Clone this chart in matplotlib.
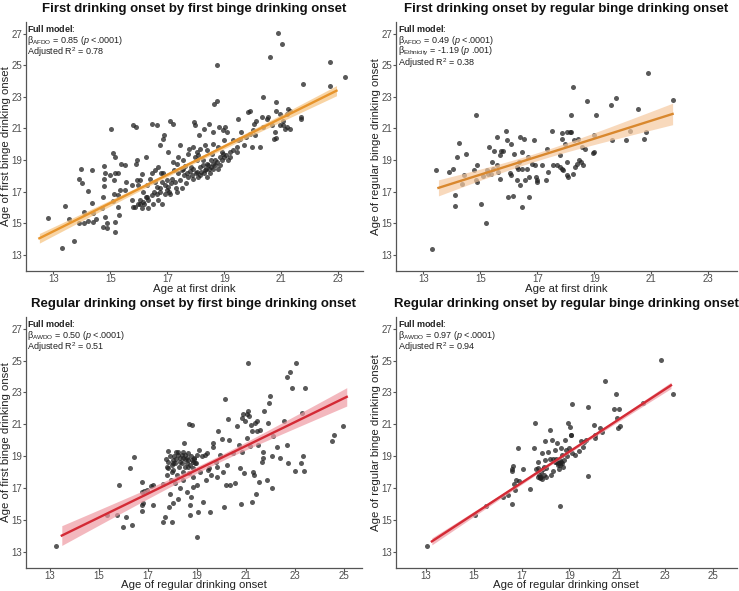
import numpy as np
import matplotlib
matplotlib.use("Agg")
import matplotlib.pyplot as plt

plt.rcParams['font.family'] = ['Liberation Sans', 'DejaVu Sans']
plt.rcParams['mathtext.fontset'] = 'custom'
plt.rcParams['mathtext.rm'] = 'Liberation Sans'
plt.rcParams['mathtext.it'] = 'Liberation Sans:italic'
plt.rcParams['mathtext.bf'] = 'Liberation Sans:bold'

# ---------------- data ----------------
p1_points = [
    (12.8, 15.35), (13.3, 13.42), (13.42, 16.1), (13.55, 15.25), (13.72, 13.9), (13.9, 17.83),
    (13.98, 18.45), (14.0, 17.57), (13.9, 15.0), (14.08, 15.7), (14.08, 15.04), (14.2, 15.14),
    (14.23, 17.03), (14.35, 18.4), (14.35, 16.3), (14.39, 15.62), (14.49, 15.25), (14.38, 15.06),
    (14.7, 15.94), (14.75, 16.67), (14.78, 17.37), (14.79, 17.8), (14.82, 18.15), (14.78, 18.6),
    (14.81, 15.41), (14.73, 14.78), (14.87, 14.68), (15.15, 14.47), (14.9, 15.04), (15.02, 20.95),
    (15.1, 19.44), (15.16, 19.19), (14.99, 18.04), (15.16, 18.15), (15.26, 18.2), (15.13, 17.72),
    (15.13, 16.88), (15.28, 16.78), (15.34, 17.09), (15.51, 17.09), (15.1, 16.41), (15.28, 16.0),
    (15.32, 15.52), (15.16, 15.1), (15.37, 18.77), (15.51, 18.67), (15.55, 17.62), (15.75, 17.45),
    (15.81, 21.19), (15.9, 21.08), (15.92, 19.03), (15.9, 18.77), (15.75, 16.5), (15.81, 16.04),
    (15.87, 16.04), (15.92, 17.72), (15.98, 17.4), (16.04, 16.46), (16.04, 16.2), (16.1, 18.14),
    (16.04, 17.72), (16.13, 16.35), (16.19, 16.2), (16.24, 19.19), (16.28, 17.4), (16.28, 16.67),
    (16.39, 17.83), (16.46, 21.29), (16.63, 21.19), (16.33, 15.94), (16.51, 16.25), (16.54, 16.99),
    (16.57, 17.62), (16.63, 16.88), (16.68, 16.5), (16.74, 17.2), (16.77, 18.15), (16.74, 19.93),
    (16.8, 16.25), (16.86, 18.15), (16.86, 20.35), (16.88, 20.56), (16.8, 17.62), (16.92, 17.4),
    (16.92, 16.88), (16.98, 17.09), (17.04, 19.5), (17.06, 16.99), (17.09, 16.88), (17.13, 17.55),
    (17.09, 21.5), (17.19, 21.25), (17.21, 18.88), (17.15, 17.83), (17.23, 18.35), (17.27, 17.62),
    (17.3, 17.2), (17.33, 16.99), (17.38, 18.15), (17.44, 19.93), (17.44, 17.72), (17.5, 17.2),
    (17.54, 18.46), (17.6, 18.04), (17.64, 17.55), (17.71, 19.36), (17.77, 19.72), (17.8, 18.3),
    (17.85, 18.04), (17.89, 19.83), (17.91, 17.83), (17.94, 21.4), (17.97, 21.19), (17.97, 19.19),
    (18.05, 18.98), (18.05, 18.25), (18.09, 19.3), (18.12, 20.56), (18.15, 18.04), (18.2, 18.25),
    (18.26, 18.98), (18.32, 19.93), (18.3, 20.98), (18.36, 18.46), (18.38, 17.93), (18.44, 18.67),
    (18.46, 21.29), (18.5, 18.15), (18.52, 18.56), (18.56, 19.4), (18.59, 20.77), (18.61, 18.77),
    (18.65, 22.55), (18.73, 22.76), (18.73, 25.0), (18.67, 18.98), (18.79, 19.83), (18.82, 21.08),
    (18.85, 19.19), (18.91, 19.5), (18.94, 20.87), (18.96, 19.4), (18.99, 20.24), (19.02, 21.12),
    (19.08, 20.77), (19.2, 19.19), (19.32, 19.61), (19.43, 19.5), (19.49, 21.6), (19.49, 20.24),
    (19.55, 20.35), (19.69, 19.93), (19.78, 20.45), (19.84, 22.02), (19.92, 22.13), (19.96, 19.83),
    (20.02, 20.87), (20.05, 21.29), (20.08, 20.56), (20.25, 19.83), (20.37, 22.97), (20.31, 21.71),
    (20.49, 21.6), (20.6, 25.53), (20.66, 21.19), (20.74, 20.35), (20.77, 20.77), (20.81, 22.65),
    (20.83, 22.13), (20.89, 27.06), (20.95, 21.19), (20.95, 21.92), (21.01, 26.33), (21.07, 21.19),
    (21.12, 20.98), (21.19, 21.92), (21.25, 22.23), (21.3, 20.98), (21.71, 21.71), (21.71, 21.6),
    (21.75, 23.81), (22.71, 25.22), (22.71, 23.66), (23.23, 24.27), (20.81, 20.41),
    (17.5, 18.4), (17.62, 18.6), (17.68, 18.15), (17.74, 17.93), (17.82, 18.56), (17.91, 18.46),
    (18.0, 18.15), (18.09, 17.93), (18.15, 18.56), (18.24, 18.67), (18.29, 18.15), (18.32, 18.35),
    (18.38, 18.77), (18.47, 18.46), (18.53, 18.98), (18.61, 18.46), (18.67, 18.67), (18.73, 18.88),
    (18.79, 18.46), (18.85, 18.67), (18.91, 19.0), (18.99, 19.19), (19.06, 19.3), (19.14, 18.98),
    (19.2, 19.5), (16.98, 17.72), (17.04, 17.3), (16.74, 16.99), (16.63, 17.3), (16.46, 16.78),
    (16.33, 16.46), (16.25, 16.67), (16.1, 15.94), (15.98, 16.25), (16.16, 16.99), (16.46, 18.15),
    (16.57, 18.35), (16.68, 18.56), (17.33, 18.77), (17.38, 19.19), (17.56, 18.98), (18.03, 19.5),
    (18.15, 19.72), (18.38, 19.61), (18.61, 20.03), (19.32, 20.24), (19.43, 19.83), (19.6, 20.77),
    (19.9, 20.66), (20.13, 21.5), (20.37, 21.08), (20.54, 21.71), (21.07, 21.5), (21.19, 21.08),
    (21.3, 22.13),
]

p2_points = [
    (13.32, 13.4), (13.43, 18.35), (13.91, 18.25), (14.03, 18.46), (14.11, 16.78), (14.11, 16.08),
    (14.19, 19.19), (14.26, 20.07), (14.35, 17.51), (14.44, 18.04), (14.49, 19.36), (14.79, 18.35),
    (14.85, 21.82), (14.87, 18.67), (14.85, 17.72), (14.89, 17.62), (15.02, 16.21), (15.1, 17.99),
    (15.2, 15.03), (15.22, 18.35), (15.28, 18.14), (15.3, 19.82), (15.37, 18.14), (15.4, 18.88),
    (15.43, 18.46), (15.48, 19.57), (15.57, 20.45), (15.6, 18.67), (15.62, 18.25), (15.68, 19.3),
    (15.68, 17.78), (15.74, 19.57), (15.8, 19.57), (15.9, 20.81), (15.92, 20.24), (15.98, 16.68),
    (16.04, 18.18), (16.06, 20.03), (16.06, 18.04), (16.16, 16.74), (16.18, 19.36), (16.28, 18.56),
    (16.28, 17.72), (16.31, 18.46), (16.36, 18.88), (16.39, 20.45), (16.41, 17.41), (16.45, 16.04),
    (16.45, 18.46), (16.48, 19.51), (16.53, 20.3), (16.57, 17.72), (16.63, 18.46), (16.68, 19.19),
    (16.72, 17.93), (16.72, 16.68), (16.8, 18.77), (16.88, 20.28), (16.92, 18.67), (16.94, 17.93),
    (16.98, 17.72), (17.0, 17.62), (17.15, 18.67), (17.3, 17.72), (17.33, 19.72), (17.36, 18.25),
    (17.5, 20.83), (17.54, 18.67), (17.68, 18.67), (17.78, 19.3), (17.8, 18.56), (17.85, 20.35),
    (17.85, 18.46), (17.85, 20.7), (17.91, 18.35), (17.97, 19.99), (18.03, 18.88), (18.05, 18.04),
    (18.06, 20.77), (18.09, 17.93), (18.15, 20.77), (18.2, 20.77), (18.2, 21.82), (18.26, 23.64),
    (18.29, 20.24), (18.26, 18.14), (18.32, 18.56), (18.38, 18.77), (18.44, 20.35), (18.47, 19.02),
    (18.52, 18.88), (18.56, 19.82), (18.61, 18.71), (18.67, 19.72), (18.73, 22.76), (18.97, 19.44),
    (18.99, 19.51), (18.99, 20.56), (19.06, 21.88), (19.6, 22.45), (19.64, 20.24), (19.76, 22.91),
    (20.13, 20.28), (20.27, 20.81), (20.54, 22.24), (20.74, 20.3), (20.83, 20.77), (20.89, 24.48),
    (21.77, 22.8),
]

p3_points = [
    (13.24, 13.34), (15.31, 15.28), (15.72, 15.32), (15.81, 17.22), (16.1, 15.18), (15.96, 14.58),
    (16.33, 14.65), (16.26, 18.28), (16.44, 18.93), (16.74, 16.76), (16.74, 15.91), (16.74, 15.53),
    (16.76, 17.39), (16.83, 16.8), (16.8, 16.08), (16.94, 16.86), (17.1, 17.14), (17.21, 15.96),
    (17.19, 17.2), (17.62, 14.86), (17.62, 17.24), (17.7, 15.18), (17.72, 18.81), (17.76, 17.81),
    (17.83, 19.34), (17.83, 18.24), (17.87, 15.81), (17.89, 16.65), (17.92, 17.5), (17.96, 14.86),
    (17.96, 18.03), (18.0, 18.6), (18.03, 16.08), (18.06, 18.98), (18.1, 17.29), (18.14, 19.29),
    (18.16, 17.81), (18.21, 16.34), (18.26, 18.34), (18.3, 16.97), (18.3, 18.66), (18.37, 19.08),
    (18.41, 18.03), (18.44, 17.5), (18.46, 19.82), (18.5, 18.83), (18.57, 18.55), (18.57, 16.76),
    (18.61, 18.34), (18.64, 19.19), (18.67, 17.92), (18.68, 21.02), (18.71, 15.91), (18.71, 15.28),
    (18.74, 16.44), (18.78, 20.98), (18.78, 18.77), (18.82, 17.08), (18.84, 18.24), (18.84, 17.71),
    (18.87, 18.91), (18.91, 18.55), (18.95, 18.55), (18.98, 13.91), (19.01, 17.18), (19.02, 15.49),
    (19.08, 19.4), (19.12, 18.03), (19.18, 18.98), (19.22, 16.13), (19.32, 19.08), (19.36, 17.5),
    (19.39, 19.19), (19.43, 18.13), (19.49, 18.24), (19.52, 15.49), (19.55, 17.81), (19.63, 19.55),
    (19.66, 19.82), (19.77, 18.66), (19.8, 18.34), (19.82, 17.71), (19.86, 20.56), (19.93, 19.08),
    (20.0, 20.07), (20.04, 18.03), (20.09, 15.81), (20.14, 22.57), (20.16, 17.22), (20.2, 18.45),
    (20.27, 21.3), (20.31, 20.03), (20.34, 17.22), (20.47, 19.19), (20.54, 17.29), (20.61, 20.88),
    (20.72, 19.72), (20.75, 18.24), (20.77, 16.02), (20.81, 19.29), (20.84, 21.4), (20.88, 21.66),
    (20.9, 17.92), (20.95, 21.19), (21.02, 21.62), (21.04, 20.14), (21.09, 24.83), (21.09, 21.83),
    (21.13, 21.51), (21.15, 19.61), (21.18, 20.98), (21.22, 20.56), (21.25, 16.13), (21.29, 18.03),
    (21.36, 21.09), (21.32, 17.81), (21.4, 16.65), (21.43, 21.19), (21.45, 20.56), (21.5, 19.72),
    (21.54, 17.39), (21.56, 20.62), (21.63, 18.66), (21.67, 18.87), (21.7, 19.29), (21.72, 21.83),
    (21.83, 17.5), (21.87, 21.09), (21.94, 22.36), (21.97, 22.78), (22.04, 18.98), (22.04, 16.97),
    (22.11, 20.24), (22.24, 19.55), (22.38, 18.87), (22.55, 21.19), (22.65, 23.94), (22.68, 19.72),
    (22.72, 18.55), (22.79, 24.26), (22.86, 23.3), (23.0, 18.07), (23.02, 24.83), (23.23, 18.55),
    (23.26, 21.72), (23.33, 18.98), (23.35, 18.07), (23.4, 23.26), (24.48, 19.93), (24.58, 20.31),
    (24.96, 20.92),
    (17.89, 18.98), (18.03, 18.77), (18.14, 18.83), (18.23, 19.08), (18.3, 18.91), (18.41, 18.87),
    (18.5, 19.08), (18.57, 18.91), (18.64, 18.77), (18.74, 18.98), (18.82, 18.66), (18.88, 18.81),
    (18.1, 18.55), (18.37, 18.55), (18.5, 18.34), (18.71, 18.45), (17.96, 18.45), (17.76, 18.34),
    (18.23, 19.29), (18.44, 19.29), (18.98, 19.08), (18.03, 18.13), (17.83, 18.66),
]

p4_points = [
    (13.03, 13.34), (15.05, 15.32), (15.53, 15.86), (16.23, 16.43), (16.44, 16.54), (16.61, 16.01),
    (16.61, 18.22), (16.62, 18.05), (16.65, 18.39), (16.68, 17.27), (16.72, 16.85), (16.75, 17.48),
    (16.86, 19.48), (16.9, 17.42), (17.07, 18.22), (17.35, 16.96), (17.51, 19.53), (17.55, 21.06),
    (17.62, 18.22), (17.67, 18.64), (17.69, 18.26), (17.74, 17.8), (17.76, 17.69), (17.81, 18.01),
    (17.83, 17.69), (17.87, 19.17), (17.9, 18.22), (17.93, 17.8), (17.97, 19.97), (17.97, 18.75),
    (18.01, 18.26), (18.04, 17.69), (18.11, 19.27), (18.18, 18.79), (18.18, 20.64), (18.25, 17.8),
    (18.29, 20.01), (18.32, 18.05), (18.39, 19.38), (18.43, 18.85), (18.49, 19.8), (18.53, 18.43),
    (18.56, 18.22), (18.6, 15.86), (18.63, 18.54), (18.67, 18.64), (18.67, 19.48), (18.71, 19.06),
    (18.74, 18.33), (18.81, 20.01), (18.85, 19.38), (18.91, 19.0), (18.95, 21.06), (18.99, 19.48),
    (19.02, 20.85), (19.06, 20.33), (19.09, 20.33), (19.12, 22.26), (19.13, 19.17), (19.23, 19.06),
    (19.41, 19.32), (19.5, 19.97), (19.57, 19.59), (19.62, 19.91), (19.71, 20.01), (19.78, 22.09),
    (19.78, 17.74), (20.02, 20.96), (20.06, 20.16), (20.08, 20.33), (20.28, 20.75), (20.35, 20.54),
    (20.48, 23.74), (20.87, 21.97), (20.97, 22.89), (21.0, 21.42), (21.04, 20.75), (21.08, 21.95),
    (21.13, 20.92), (22.08, 22.33), (22.85, 25.06), (23.33, 22.92),
    (17.69, 17.69), (17.79, 17.63), (17.87, 17.59), (17.93, 18.33), (18.46, 18.64), (18.53, 18.54),
    (18.6, 18.43), (18.63, 18.75), (18.71, 18.54), (18.78, 18.75), (18.32, 18.85), (18.39, 18.64),
]

# fitted regression lines as drawn in the figure (intercept, slope, x-range)
fit_intercepts = [2.854, 9.54, 3.92, 0.68]
fit_slopes = [0.895, 0.569, 0.749, 0.979]
fit_x_from = [12.51, 13.53, 13.48, 13.25]
fit_x_to = [22.94, 21.75, 25.10, 23.25]
# 95% CI half-widths read at the centre and at the ends of each line
ci_mid = [0.12, 0.25, 0.20, 0.08]
ci_end = [0.32, 0.68, 0.62, 0.22]

titles = [
    "First drinking onset by first binge drinking onset",
    "First drinking onset by regular binge drinking onset",
    "Regular drinking onset by first binge drinking onset",
    "Regular drinking onset by regular binge drinking onset",
]
xlabels = ["Age at first drink", "Age at first drink",
           "Age of regular drinking onset", "Age of regular drinking onset"]
ylabels = ["Age of first binge drinking onset", "Age of regular binge drinking onset",
           "Age of first binge drinking onset", "Age of regular binge drinking onset"]
annotations = [
    [r"$\mathbf{Full\ model}$:", r"β$_{\mathrm{AFDO}}$ = 0.85 ($\mathit{p}$ <.0001)", r"Adjusted R$^{2}$ = 0.78"],
    [r"$\mathbf{Full\ model}$:", r"β$_{\mathrm{AFDO}}$ = 0.49 ($\mathit{p}$ <.0001)",
     r"β$_{\mathrm{Ethnicity}}$ = -1.19 ($\mathit{p}$ .001)", r"Adjusted R$^{2}$ = 0.38"],
    [r"$\mathbf{Full\ model}$:", r"β$_{\mathrm{AWDO}}$ = 0.50 ($\mathit{p}$ <.0001)", r"Adjusted R$^{2}$ = 0.51"],
    [r"$\mathbf{Full\ model}$:", r"β$_{\mathrm{AWDO}}$ = 0.97 ($\mathit{p}$ <.0001)", r"Adjusted R$^{2}$ = 0.94"],
]
x_ticks_top = [13, 15, 17, 19, 21, 23]
x_ticks_bottom = [13, 15, 17, 19, 21, 23, 25]
y_ticks = [13, 15, 17, 19, 21, 23, 25, 27]

# ---------------- layout ----------------
W, H = 739, 591
fig = plt.figure(figsize=(W / 100, H / 100), dpi=100)


def fx(px):
    return px / W


def fy(py):
    return 1 - py / H


# (left px, top px, right px, bottom px)
boxes = [(26, 21.7, 362.7, 270.7), (396, 21.7, 736.7, 270.7),
         (26, 316.7, 361.7, 567.7), (396, 316.7, 736.7, 567.7)]
xlims = [(12.04, 23.86), (12.04, 24.0), (12.02, 25.71), (11.75, 26.0)]
ylim = (12.0, 27.75)
line_cols = ['#E8952C', '#D9882E', '#D42A35', '#D42A35']
band_cols = ['#F6C27E', '#F6C9A0', '#EF9AA3', '#EF9AA3']
datasets = [p1_points, p2_points, p3_points, p4_points]
xticks_list = [x_ticks_top, x_ticks_top, x_ticks_bottom, x_ticks_bottom]

axis_col = '#555555'
tick_col = '#4D4D4D'

for i in range(4):
    l, t, r, b = boxes[i]
    ax = fig.add_axes([fx(l), fy(b), fx(r) - fx(l), fy(t) - fy(b)])
    pts = np.array(datasets[i])
    x, y = pts[:, 0], pts[:, 1]

    xs = np.linspace(fit_x_from[i], fit_x_to[i], 120)
    yhat = fit_intercepts[i] + fit_slopes[i] * xs
    xm = x.mean()
    dmax = max(abs(fit_x_from[i] - xm), abs(fit_x_to[i] - xm))
    c = (ci_end[i] ** 2 - ci_mid[i] ** 2) / dmax ** 2
    hw = np.sqrt(ci_mid[i] ** 2 + c * (xs - xm) ** 2)

    ax.scatter(x, y, s=13, color='#222222', alpha=0.75, linewidths=0, zorder=2)
    ax.fill_between(xs, yhat - hw, yhat + hw, color=band_cols[i],
                    alpha=0.7, linewidth=0, zorder=3)
    ax.plot(xs, yhat, color=line_cols[i], lw=1.7, zorder=4)

    ax.set_xlim(*xlims[i])
    ax.set_ylim(*ylim)
    ax.set_xticks(xticks_list[i])
    ax.set_yticks(y_ticks)
    for sp in ['top', 'right']:
        ax.spines[sp].set_visible(False)
    for sp in ['left', 'bottom']:
        ax.spines[sp].set_color(axis_col)
        ax.spines[sp].set_linewidth(0.9)
    ax.tick_params(axis='both', colors=axis_col, labelcolor=tick_col, labelsize=7.0,
                   length=2.0, width=0.8, pad=0.6)

    cx = (l + r) / 2
    fig.text(fx(cx), fy(t - 12.5), titles[i], ha='center', va='center',
             fontsize=9.5, fontweight='bold', color='#111111')
    fig.text(fx(cx), fy(b + 17.8), xlabels[i], ha='center', va='center',
             fontsize=8.2, color='#222222')
    fig.text(fx(l - 20.0), fy((t + b) / 2), ylabels[i], ha='center', va='center',
             rotation=90, fontsize=8.2, color='#222222')

    for k, line in enumerate(annotations[i]):
        fig.text(fx(l + 1.5), fy(t + 6.8 + k * 11.7), line, ha='left', va='center',
                 fontsize=6.5, color='#222222')

fig.savefig("out.png", dpi=100)
